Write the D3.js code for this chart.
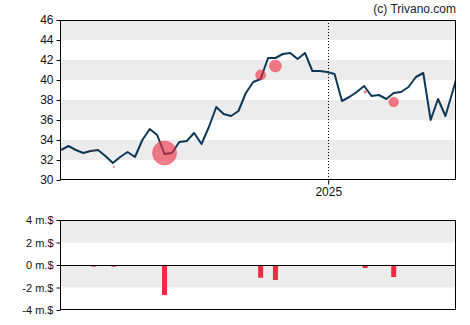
<!DOCTYPE html>
<html>
<head>
<meta charset="utf-8">
<script src="https://cdn.jsdelivr.net/npm/d3@7"></script>
<style>
  html, body { margin: 0; padding: 0; background: #fff; }
  svg { display: block; font-family: "Liberation Sans", Arial, sans-serif; }
  .tick text { fill: #111; }
</style>
</head>
<body>
<svg id="chart" width="470" height="325"></svg>
<script>
// Weekly closing prices
const dates = [
  "2024-04-23","2024-04-30","2024-05-07","2024-05-14","2024-05-21","2024-05-28",
  "2024-06-04","2024-06-11","2024-06-18","2024-06-25","2024-07-02","2024-07-09",
  "2024-07-16","2024-07-23","2024-07-30","2024-08-06","2024-08-13","2024-08-20",
  "2024-08-27","2024-09-03","2024-09-10","2024-09-17","2024-09-24","2024-10-01",
  "2024-10-08","2024-10-15","2024-10-22","2024-10-29","2024-11-05","2024-11-12",
  "2024-11-19","2024-11-26","2024-12-03","2024-12-10","2024-12-17","2024-12-24",
  "2024-12-31","2025-01-07","2025-01-14","2025-01-21","2025-01-28","2025-02-04",
  "2025-02-11","2025-02-18","2025-02-25","2025-03-04","2025-03-11","2025-03-18",
  "2025-03-25","2025-04-01","2025-04-08","2025-04-15","2025-04-22","2025-05-02"
];
const closes = [
  33.0, 33.4, 33.0, 32.7, 32.9, 33.0, 32.4, 31.7, 32.3, 32.8,
  32.3, 34.0, 35.1, 34.5, 32.6, 32.7, 33.8, 33.9, 34.7, 33.6,
  35.3, 37.3, 36.6, 36.4, 36.9, 38.7, 39.8, 40.1, 42.2, 42.2,
  42.6, 42.7, 42.1, 42.7, 40.9, 40.9, 40.8, 40.6, 37.9, 38.3,
  38.8, 39.4, 38.4, 38.5, 38.1, 38.7, 38.8, 39.3, 40.3, 40.7,
  36.0, 38.1, 36.4, 40.0
];

// Insider transactions: date, trade price, net value in million $
const tradeDates  = ["2024-05-24","2024-06-12","2024-07-30","2024-10-29","2024-11-12","2025-02-05","2025-03-04"];
const tradePrices = [32.9, 31.3, 32.7, 40.5, 41.4, 38.8, 37.8];
const tradeValues = [-0.15, -0.15, -2.67, -1.13, -1.33, -0.27, -1.07];

const priceTicks = [30, 32, 34, 36, 38, 40, 42, 44, 46];
const flowTicks  = [-4, -2, 0, 2, 4];
const yearTicks  = ["2025-01-01"];
const xDomain    = ["2024-04-22", "2025-05-02"];

const parse = d3.utcParse("%Y-%m-%d");
const series = dates.map((d, i) => ({ date: parse(d), close: closes[i] }));
const trades = tradeDates.map((d, i) => ({ date: parse(d), price: tradePrices[i], value: tradeValues[i] }));

const svg = d3.select("#chart");
const L = 60, R = 456;
const top1 = 20, bot1 = 180;
const top2 = 220, bot2 = 310;

const x = d3.scaleUtc().domain(xDomain.map(parse)).range([L, R]);
const y = d3.scaleLinear().domain([30, 46]).range([bot1, top1]);
const yf = d3.scaleLinear().domain([-4, 4]).range([bot2, top2]);
const rScale = d3.scaleLinear().domain([0, 1]).range([0, 4.5]);

const BAND = "#ececec";
const NAVY = "#0d3858";
const RED = "#ee2b40";

// ---------- price panel ----------
const bands1 = priceTicks.filter(t => (46 - t) % 4 === 0 && t > 30);
svg.append("g").selectAll("rect").data(bands1).join("rect")
  .attr("x", L).attr("width", R - L)
  .attr("y", d => y(d)).attr("height", d => y(d - 2) - y(d))
  .attr("fill", BAND);

svg.append("defs").append("clipPath").attr("id", "plot1")
  .append("rect").attr("x", L).attr("y", top1).attr("width", R - L).attr("height", bot1 - top1);

// year marker
svg.append("g").selectAll("line").data(yearTicks.map(parse)).join("line")
  .attr("x1", d => Math.round(x(d)) + 0.5).attr("x2", d => Math.round(x(d)) + 0.5)
  .attr("y1", top1).attr("y2", bot1)
  .attr("stroke", "#000").attr("stroke-width", 1).attr("stroke-dasharray", "1,2");

const plot = svg.append("g").attr("clip-path", "url(#plot1)");

plot.append("path").datum(series)
  .attr("fill", "none").attr("stroke", NAVY).attr("stroke-width", 2)
  .attr("stroke-linejoin", "round")
  .attr("d", d3.line().x(d => x(d.date)).y(d => y(d.close)));

plot.append("g").selectAll("circle").data(trades).join("circle")
  .attr("cx", d => x(d.date)).attr("cy", d => y(d.price))
  .attr("r", d => rScale(Math.abs(d.value)))
  .attr("fill", RED).attr("fill-opacity", 0.6)
  .attr("stroke", RED).attr("stroke-opacity", 0.35);

// frame
svg.append("rect").attr("x", L + 0.5).attr("y", top1 + 0.5)
  .attr("width", R - L - 1).attr("height", bot1 - top1 - 1)
  .attr("fill", "none").attr("stroke", "#000").attr("stroke-width", 1);

const yAxis = svg.append("g").attr("transform", `translate(${L + 0.5},0)`)
  .call(d3.axisLeft(y).tickValues(priceTicks).tickSize(4).tickPadding(3).tickFormat(d3.format("d")));
yAxis.select(".domain").remove();
yAxis.selectAll("text").attr("font-size", 12).attr("font-family", "Liberation Sans, Arial, sans-serif");

const xAxis = svg.append("g").attr("transform", `translate(0,${bot1 - 0.5})`)
  .call(d3.axisBottom(x).tickValues(yearTicks.map(parse)).tickSize(5).tickPadding(3)
    .tickFormat(d3.utcFormat("%Y")));
xAxis.select(".domain").remove();
xAxis.selectAll("text").attr("font-size", 12).attr("font-family", "Liberation Sans, Arial, sans-serif");

// ---------- insider flow panel ----------
const bands2 = flowTicks.filter(t => t > -4 && (4 - t) % 4 === 0);
svg.append("g").selectAll("rect").data(bands2).join("rect")
  .attr("x", L).attr("width", R - L)
  .attr("y", d => yf(d)).attr("height", d => yf(d - 2) - yf(d))
  .attr("fill", BAND);

svg.append("g").selectAll("rect").data(trades).join("rect")
  .attr("x", d => x(d.date) - 2.5).attr("width", 5)
  .attr("y", d => Math.min(yf(0), yf(d.value)))
  .attr("height", d => Math.abs(yf(d.value) - yf(0)))
  .attr("fill", RED);

svg.append("line")
  .attr("x1", L).attr("x2", R)
  .attr("y1", Math.round(yf(0)) + 0.5).attr("y2", Math.round(yf(0)) + 0.5)
  .attr("stroke", "#000").attr("stroke-width", 1);

svg.append("rect").attr("x", L + 0.5).attr("y", top2 + 0.5)
  .attr("width", R - L - 1).attr("height", bot2 - top2 - 1)
  .attr("fill", "none").attr("stroke", "#000").attr("stroke-width", 1);

const fAxis = svg.append("g").attr("transform", `translate(${L + 0.5},0)`)
  .call(d3.axisLeft(yf).tickValues(flowTicks).tickSize(4).tickPadding(3)
    .tickFormat(d => d + " m.$"));
fAxis.select(".domain").remove();
fAxis.selectAll("text").attr("font-size", 11).attr("font-family", "Liberation Sans, Arial, sans-serif");

// copyright
svg.append("text")
  .attr("x", R).attr("y", 13).attr("text-anchor", "end")
  .attr("font-size", 12).attr("fill", "#222")
  .text("(c) Trivano.com");
</script>
</body>
</html>
